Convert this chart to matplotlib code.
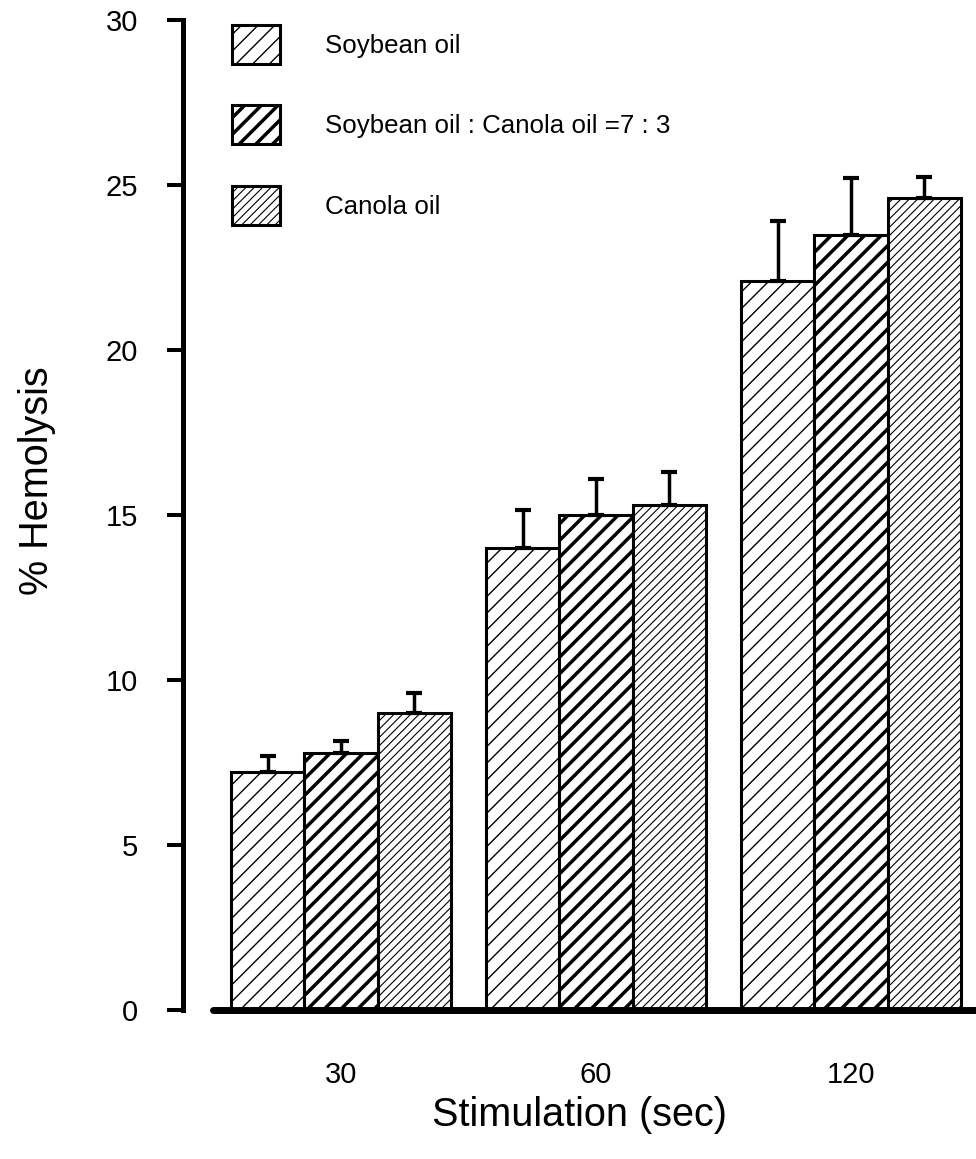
import numpy as np
import matplotlib
matplotlib.use("Agg")
import matplotlib.pyplot as plt

plt.rcParams['font.family'] = ['Liberation Sans', 'DejaVu Sans']

# stimulation times and % hemolysis (mean, upper SD)
times = ['30', '60', '120']
soy = [7.2, 14.0, 22.1]
soy_err = [0.5, 1.15, 1.8]
blend = [7.8, 15.0, 23.5]
blend_err = [0.35, 1.1, 1.7]
canola = [9.0, 15.3, 24.6]
canola_err = [0.6, 1.0, 0.65]
labels = ['Soybean oil', 'Soybean oil : Canola oil =7 : 3', 'Canola oil']

fig = plt.figure(figsize=(9.76, 11.59), dpi=100)
ax = fig.add_axes([0.1875, 0.1286, 0.8125, 0.8541])

x = np.arange(len(times))
w = 0.288
err_kw = dict(elinewidth=2.5, capthick=3, capsize=5.8, ecolor='black')

series = [(soy, soy_err, '//', 1.0), (blend, blend_err, '//', 2.5), (canola, canola_err, '////', 0.8)]
bars = []
for i, (vals, errs, hatch, hlw) in enumerate(series):
    plt.rcParams['hatch.linewidth'] = hlw
    b = ax.bar(x + (i - 1) * w, vals, w, color='white', edgecolor='black', linewidth=2.2,
               hatch=hatch, yerr=[np.zeros(len(errs)), errs], error_kw=err_kw,
               label=labels[i], zorder=2)
    bars.append(b)

ax.set_xlim(-0.6196, 2.49)
ax.set_ylim(0, 30)
ax.set_yticks([0, 5, 10, 15, 20, 25, 30])
ax.set_xticks(x)
ax.set_xticklabels(times)

for s in ['top', 'right']:
    ax.spines[s].set_visible(False)
ax.spines['left'].set_linewidth(3.6)
ax.spines['bottom'].set_linewidth(5)
ax.spines['bottom'].set_bounds(-0.502, 2.49)
ax.spines['bottom'].set_capstyle('round')

ax.tick_params(axis='y', length=11.5, width=2.9, pad=21, labelsize=21)
ax.tick_params(axis='x', length=0, pad=37, labelsize=21)

ax.set_xlabel('Stimulation (sec)', fontsize=28.5, labelpad=5)
ax.set_ylabel('% Hemolysis', fontsize=28.5)
ax.yaxis.set_label_coords(-0.16, 0.535)

leg = ax.legend(handles=bars, loc='upper left', bbox_to_anchor=(232 / 976, 1 - 25 / 1159),
                bbox_transform=fig.transFigure, frameon=False, fontsize=18.6,
                handlelength=1.86, handleheight=1.95, labelspacing=1.6, handletextpad=1.75,
                borderpad=0, borderaxespad=0)
for h, s in zip(leg.legend_handles, series):
    if hasattr(h, 'set_hatch_linewidth'):
        h.set_hatch_linewidth(s[3])
    else:
        h._hatch_linewidth = s[3]

plt.savefig('out.png', dpi=100)
plt.close()
